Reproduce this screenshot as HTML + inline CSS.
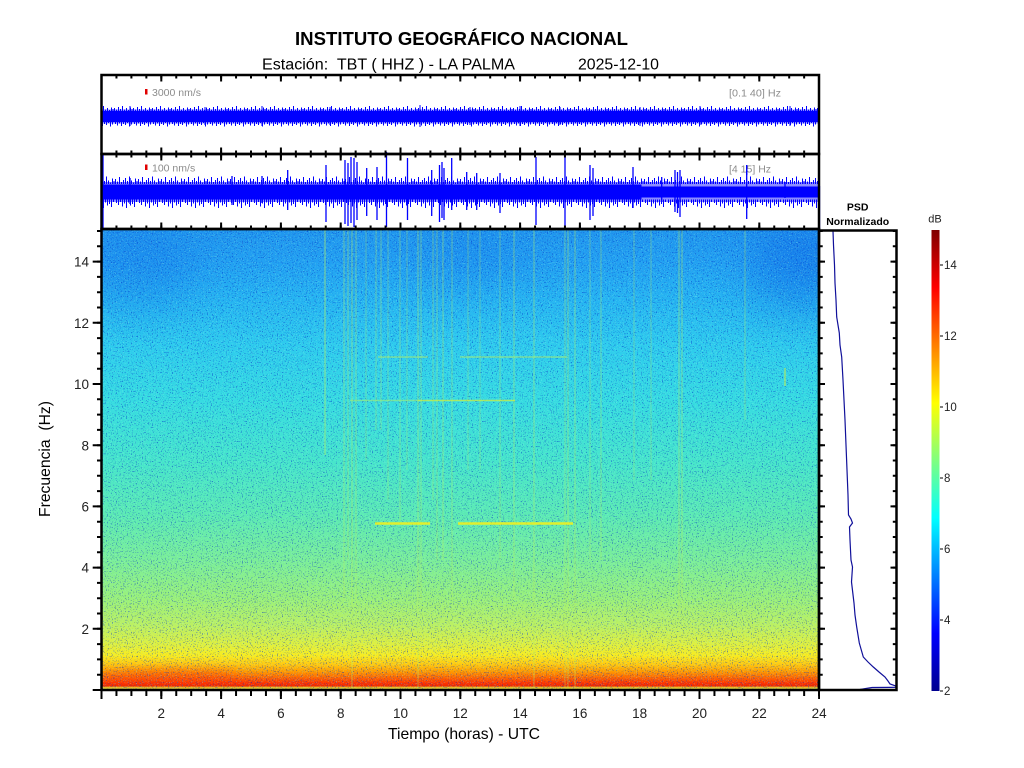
<!DOCTYPE html>
<html>
<head>
<meta charset="utf-8">
<style>
html,body{margin:0;padding:0;background:#fff;}
svg{display:block;}
</style>
</head>
<body>
<svg width="1024" height="768" viewBox="0 0 1024 768" xmlns="http://www.w3.org/2000/svg" font-family="'Liberation Sans', Arial, sans-serif">
<defs>
  <linearGradient id="spec" x1="0" y1="0" x2="0" y2="1">
    <stop offset="0" stop-color="#2096ee"/>
    <stop offset="0.07" stop-color="#22a0f2"/>
    <stop offset="0.15" stop-color="#26b4f2"/>
    <stop offset="0.25" stop-color="#2ecbee"/>
    <stop offset="0.37" stop-color="#36dbe2"/>
    <stop offset="0.50" stop-color="#46e5cc"/>
    <stop offset="0.62" stop-color="#5ceab4"/>
    <stop offset="0.72" stop-color="#7cee98"/>
    <stop offset="0.80" stop-color="#9af07a"/>
    <stop offset="0.86" stop-color="#bcf062"/>
    <stop offset="0.90" stop-color="#def040"/>
    <stop offset="0.925" stop-color="#f8ec20"/>
    <stop offset="0.945" stop-color="#ffc810"/>
    <stop offset="0.96" stop-color="#ff9a00"/>
    <stop offset="0.975" stop-color="#ff6000"/>
    <stop offset="0.985" stop-color="#ff3400"/>
    <stop offset="0.991" stop-color="#f02a00"/>
    <stop offset="0.995" stop-color="#e8d030"/>
    <stop offset="1" stop-color="#e0e050"/>
  </linearGradient>
  <linearGradient id="jet" x1="0" y1="1" x2="0" y2="0">
    <stop offset="0" stop-color="#00008f"/>
    <stop offset="0.125" stop-color="#0000ff"/>
    <stop offset="0.375" stop-color="#00ffff"/>
    <stop offset="0.625" stop-color="#ffff00"/>
    <stop offset="0.875" stop-color="#ff0000"/>
    <stop offset="1" stop-color="#800000"/>
  </linearGradient>
  <clipPath id="specClip"><rect x="101.5" y="229" width="717.5" height="461"/></clipPath>
  <filter id="blur" x="-1" y="-1" width="3" height="3"><feGaussianBlur stdDeviation="22"/></filter>
  <filter id="blur2" x="-1" y="-1" width="3" height="3"><feGaussianBlur stdDeviation="5"/></filter>
  <filter id="spk" x="0" y="0" width="1" height="1" color-interpolation-filters="sRGB">
    <feTurbulence type="fractalNoise" baseFrequency="0.8" numOctaves="1" seed="4" result="n"/>
    <feColorMatrix in="n" type="matrix" values="0 0 0 0 0  0 0 0 0 0.18  0 0 0 0 0.78  12 0 0 0 -7.2"/>
  </filter>
  <filter id="spk2" x="0" y="0" width="1" height="1" color-interpolation-filters="sRGB">
    <feTurbulence type="fractalNoise" baseFrequency="0.85" numOctaves="1" seed="11" result="n"/>
    <feColorMatrix in="n" type="matrix" values="0 0 0 0 0.6  0 0 0 0 1  0 0 0 0 0.9  0 12 0 0 -7.2"/>
  </filter>
  <pattern id="p1" patternUnits="userSpaceOnUse" x="0" y="104" width="19" height="24">
    <path d="M0.5 4V7M2.5 5.5V7M4.5 3V7M6.5 5V7M8.5 2V7M10.5 5.5V7M12.5 4V7M14.5 6V7M16.5 3.5V7M18 5V7M1.5 18V20M3.5 18V21.5M5.5 18V19.5M7.5 18V22M9.5 18V20M11.5 18V21M13.5 18V19M15.5 18V22.5M17.5 18V20.5" stroke="#0000ff" stroke-width="1"/>
  </pattern>
  <pattern id="p2" patternUnits="userSpaceOnUse" x="0" y="175" width="23" height="34">
    <path d="M0.5 4V9M2.5 6.5V9M4.5 2V9M6.5 7V9M8.5 5V9M10.5 3V9M12.5 6V9M14.5 1.5V9M16.5 5.5V9M18.5 7.5V9M20.5 3.5V9M22 6V9M1.5 24.5V28M3.5 24.5V30M5.5 24.5V27M7.5 24.5V31.5M9.5 24.5V28.5M11.5 24.5V33M13.5 24.5V27.5M15.5 24.5V30.5M17.5 24.5V29M19.5 24.5V32M21.5 24.5V27" stroke="#0000ff" stroke-width="1"/>
  </pattern>
</defs>

<rect width="1024" height="768" fill="#fff"/>

<!-- Title -->
<text x="461.5" y="45" font-size="18.5" font-weight="bold" text-anchor="middle" textLength="333" lengthAdjust="spacingAndGlyphs" fill="#000">INSTITUTO GEOGRÁFICO NACIONAL</text>
<text x="262" y="69.5" font-size="15.5" textLength="253" lengthAdjust="spacingAndGlyphs" fill="#000" xml:space="preserve" style="white-space:pre">Estación:  TBT ( HHZ ) - LA PALMA</text>
<text x="578" y="69.5" font-size="15.5" textLength="81" lengthAdjust="spacingAndGlyphs" fill="#000">2025-12-10</text>

<!-- Spectrogram -->
<rect x="101.5" y="229" width="717.5" height="461" fill="url(#spec)"/>
<g clip-path="url(#specClip)">
  <ellipse cx="805" cy="268" rx="55" ry="45" fill="#0040e0" opacity="0.3" filter="url(#blur)"/>
  <ellipse cx="140" cy="272" rx="60" ry="40" fill="#0040e0" opacity="0.18" filter="url(#blur)"/>
  <ellipse cx="470" cy="262" rx="60" ry="30" fill="#0040e0" opacity="0.12" filter="url(#blur)"/>
  <ellipse cx="170" cy="676" rx="70" ry="7" fill="#ff3000" opacity="0.35" filter="url(#blur2)"/>
  <rect x="101.5" y="229" width="717.5" height="461" fill="#000" filter="url(#spk)" opacity="0.5"/>
  <rect x="101.5" y="229" width="717.5" height="461" fill="#000" filter="url(#spk2)" opacity="0.3"/>
  <!-- event vertical lines -->
  <g stroke="#b8f060" stroke-width="1.1" fill="none">
    <path d="M325 230V455" opacity="0.6"/>
    <path d="M344 230V600M348 230V560M356 230V640" opacity="0.4"/>
    <path d="M352 230V690" opacity="0.45"/>
    <path d="M366 230V460M388 230V500M407 230V470M468 230V470M480 230V470M590 230V560M634 230V480M651 230V480" opacity="0.3"/>
    <path d="M376 230V430M381 230V430M400 230V520M421 230V600M433 230V500M437 230V560M452 230V600M500 230V560M565 230V690M601 230V560M745 230V420" opacity="0.35"/>
    <path d="M418 230V690M443 230V560M514 230V600M534 230V690M568 230V690M575 230V690M679 230V620M682 230V620" opacity="0.42"/>
  </g>
  <!-- horizontal lines -->
  <path d="M378 357H428M460 357H567" stroke="#b8f060" stroke-width="1.5" opacity="0.55"/>
  <path d="M350 400.5H418" stroke="#b8f060" stroke-width="1.5" opacity="0.5"/>
  <path d="M418 400.5H515" stroke="#d0f040" stroke-width="1.6" opacity="0.75"/>
  <path d="M375 523.5H430M458 523.5H573" stroke="#f0f020" stroke-width="2.6" opacity="0.9"/>
  <path d="M785 368V386" stroke="#d0f040" stroke-width="1.5" opacity="0.6"/>
</g>

<!-- Trace panel 1 -->
<rect x="101.5" y="109.5" width="717.5" height="14" fill="#0000ff" opacity="0.45"/>
<rect x="101.5" y="104" width="717.5" height="24" fill="url(#p1)"/>
<rect x="101.5" y="111" width="717.5" height="11" fill="#0000ff"/>
<path d="M130 106V126M205 107V125M262 106V126M330 107V125M420 105V127M470 107V125M520 106V126M560 107V125M640 107V126M700 106V125M790 106V126" stroke="#0000ff" stroke-width="1"/>

<!-- Trace panel 2 -->
<rect x="101.5" y="182" width="717.5" height="20" fill="#0000ff" opacity="0.45"/>
<rect x="101.5" y="175" width="717.5" height="34" fill="url(#p2)"/>
<rect x="101.5" y="184.5" width="540" height="15" fill="#0000ff"/>
<rect x="641" y="186.5" width="178" height="11" fill="#0000ff"/>
<path d="M103 154V229M819.5 186V229M130 178V204M232 176V205M262 176V203M287.7 170V210M326 165V222M345 160V224M348 163V226M351 157V223M354 158V227M357 162V220M366.7 168V216M377 167V220M386.5 152V227M407.5 158V220M431.7 170V216M439.5 165V222M442 162V218M444 168V220M451.7 158V210M466.7 172V210M476.7 173V210M500 173V213M536 157V225M565 152V228M590 165V220M593 168V216M633 167V208M661.7 177V202M675 170V212M677.5 172V213M680 170V217M746.7 165V219M785 182V198" stroke="#0000ff" stroke-width="1.3"/>

<!-- Scale markers and labels -->
<rect x="145" y="89" width="2.5" height="5.5" fill="#e00000"/>
<rect x="145" y="164.5" width="2.5" height="5.5" fill="#e00000"/>
<text x="152" y="96" font-size="10.5" fill="#8c8c8c">3000 nm/s</text>
<text x="152" y="171.5" font-size="10.5" fill="#8c8c8c">100 nm/s</text>
<text x="729" y="96.5" font-size="10.5" fill="#8c8c8c" textLength="52" lengthAdjust="spacingAndGlyphs">[0.1 40] Hz</text>
<text x="729" y="172.5" font-size="10.5" fill="#8c8c8c">[4 15] Hz</text>
<path d="M746.7 165V175" stroke="#0000ff" stroke-width="1.3"/>

<!-- PSD panel -->
<polyline points="833,231 833.5,245 834.5,265 835,283 836,300 836.7,317 838,325 839.3,333 840,345 841.7,357 843,380 844,400 845,420 846,445 847,470 848,495 848.5,515 851,519 852.5,523 849.5,527 850,540 851,560 852.5,567 851.5,582 854,603 855,615 856.7,627 859.3,643 863.3,657 868,662 873.3,667 879,672 885,677 888,681 890,684 896,686 896,687.3 872,687.5 860,689.5" fill="none" stroke="#10109a" stroke-width="1.2"/>
<text x="857.7" y="210.7" font-size="10.5" font-weight="bold" text-anchor="middle" fill="#000">PSD</text>
<text x="857.7" y="225" font-size="10.5" font-weight="bold" text-anchor="middle" fill="#000" textLength="63" lengthAdjust="spacingAndGlyphs">Normalizado</text>

<!-- Frames -->
<g fill="none" stroke="#000" stroke-width="2.5">
  <rect x="101.5" y="75" width="717.5" height="79"/>
  <rect x="101.5" y="154" width="717.5" height="75"/>
  <rect x="101.5" y="229" width="717.5" height="461"/>
  <rect x="819" y="230.5" width="77.5" height="459.5"/>
</g>

<!-- Ticks: trace panels -->
<g stroke="#000" fill="none">
  <line x1="100.5" y1="76.75" x2="820" y2="76.75" stroke-width="3.5" stroke-dasharray="2 12.95"/>
  <line x1="100.5" y1="78.25" x2="820" y2="78.25" stroke-width="6.5" stroke-dasharray="2 57.8"/>
  <line x1="100.5" y1="152.25" x2="820" y2="152.25" stroke-width="3.5" stroke-dasharray="2 12.95"/>
  <line x1="100.5" y1="150.75" x2="820" y2="150.75" stroke-width="6.5" stroke-dasharray="2 57.8"/>
  <line x1="100.5" y1="155.75" x2="820" y2="155.75" stroke-width="3.5" stroke-dasharray="2 12.95"/>
  <line x1="100.5" y1="157.25" x2="820" y2="157.25" stroke-width="6.5" stroke-dasharray="2 57.8"/>
  <line x1="100.5" y1="227.25" x2="820" y2="227.25" stroke-width="3.5" stroke-dasharray="2 12.95"/>
  <line x1="100.5" y1="225.75" x2="820" y2="225.75" stroke-width="6.5" stroke-dasharray="2 57.8"/>
  <!-- spectrogram bottom (outward) -->
  <line x1="100.5" y1="693" x2="820" y2="693" stroke-width="6" stroke-dasharray="2 12.95"/>
  <line x1="100.5" y1="694.5" x2="820" y2="694.5" stroke-width="9" stroke-dasharray="2 57.8"/>
  <!-- spectrogram left (outward) -->
  <line x1="99.25" y1="691" x2="99.25" y2="228" stroke-width="4.5" stroke-dasharray="2 13.3"/>
  <line x1="97.1" y1="691" x2="97.1" y2="228" stroke-width="8.8" stroke-dasharray="2 59.2"/>
  <!-- PSD left/right (inward) -->
  <line x1="820.85" y1="691" x2="820.85" y2="231" stroke-width="3.7" stroke-dasharray="2 13.3"/>
  <line x1="822" y1="691" x2="822" y2="231" stroke-width="6" stroke-dasharray="2 59.2"/>
  <line x1="894.65" y1="691" x2="894.65" y2="231" stroke-width="3.7" stroke-dasharray="2 13.3"/>
  <line x1="893.5" y1="691" x2="893.5" y2="231" stroke-width="6" stroke-dasharray="2 59.2"/>
</g>

<!-- X tick labels -->
<g font-size="13.5" fill="#222" text-anchor="middle">
  <text x="161.3" y="718">2</text>
  <text x="221.1" y="718">4</text>
  <text x="280.9" y="718">6</text>
  <text x="340.7" y="718">8</text>
  <text x="400.5" y="718">10</text>
  <text x="460.3" y="718">12</text>
  <text x="520.1" y="718">14</text>
  <text x="579.9" y="718">16</text>
  <text x="639.7" y="718">18</text>
  <text x="699.5" y="718">20</text>
  <text x="759.3" y="718">22</text>
  <text x="819.1" y="718">24</text>
</g>
<!-- Y tick labels -->
<g font-size="13.5" fill="#222" text-anchor="end">
  <text x="89" y="633.9">2</text>
  <text x="89" y="572.7">4</text>
  <text x="89" y="511.5">6</text>
  <text x="89" y="450.3">8</text>
  <text x="89" y="389.1">10</text>
  <text x="89" y="327.9">12</text>
  <text x="89" y="266.7">14</text>
</g>

<!-- Axis labels -->
<text x="464" y="739" font-size="16" text-anchor="middle" fill="#000" textLength="152" lengthAdjust="spacingAndGlyphs">Tiempo (horas) - UTC</text>
<text transform="translate(50,459) rotate(-90)" x="0" y="0" font-size="15.5" text-anchor="middle" fill="#000" textLength="116" lengthAdjust="spacingAndGlyphs" xml:space="preserve" style="white-space:pre">Frecuencia  (Hz)</text>

<!-- Colorbar -->
<rect x="931.5" y="230" width="8" height="461" fill="url(#jet)"/>
<line x1="941.5" y1="691.6" x2="941.5" y2="230" stroke="#333" stroke-width="3" stroke-dasharray="1.2 69.8"/>
<text x="935" y="222.5" font-size="11" text-anchor="middle" fill="#222">dB</text>
<g font-size="11.5" fill="#222">
  <text x="944" y="695">2</text>
  <text x="944" y="624">4</text>
  <text x="944" y="553">6</text>
  <text x="944" y="482">8</text>
  <text x="944" y="411">10</text>
  <text x="944" y="340">12</text>
  <text x="944" y="269">14</text>
</g>
</svg>
</body>
</html>
